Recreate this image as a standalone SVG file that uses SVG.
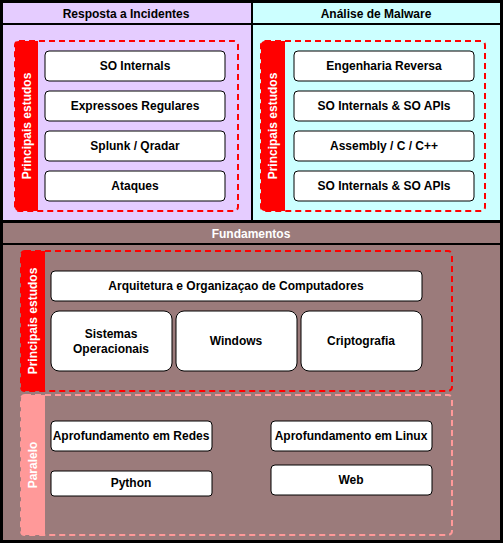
<svg xmlns="http://www.w3.org/2000/svg" width="503" height="543" viewBox="0 0 503 543">
<style>
text{font-family:"Liberation Sans",Arial,sans-serif;font-weight:bold;font-size:12px;text-anchor:middle;dominant-baseline:central}
.box{fill:#fff;stroke:#000;stroke-width:1}
.dash{fill:none;stroke:#ff0000;stroke-width:2;stroke-dasharray:6 4}
.dashp{fill:none;stroke:#ff9999;stroke-width:2;stroke-dasharray:6 4}
.w{fill:#fff}
.sep{stroke:#000;stroke-width:2}
</style>
<rect x="0" y="0" width="503" height="543" fill="#000"/>
<g id="resposta">
<rect x="3" y="3" width="248" height="217" fill="#e5ccff"/>
<line class="sep" x1="0" y1="24" x2="252" y2="24"/>
<text x="126" y="14">Resposta a Incidentes</text>
<g id="ri-principais">
<path d="M19 41 H38 V211 H19 Q15 211 15 207 V45 Q15 41 19 41 Z" fill="#ff0000"/>
<rect class="dash" x="15" y="41" width="223" height="170" rx="4"/>
<text transform="translate(27 126) rotate(-90)" class="w">Principais estudos</text>
</g>
<g id="ri-so"><rect class="box" x="45" y="51" width="180" height="30" rx="4"/><text x="135" y="66">SO Internals</text></g>
<g id="ri-regex"><rect class="box" x="45" y="91" width="180" height="30" rx="4"/><text x="135" y="106">Expressoes Regulares</text></g>
<g id="ri-splunk"><rect class="box" x="45" y="131" width="180" height="30" rx="4"/><text x="135" y="146">Splunk / Qradar</text></g>
<g id="ri-ataques"><rect class="box" x="45" y="171" width="180" height="30" rx="4"/><text x="135" y="186">Ataques</text></g>
</g>
<g id="malware">
<rect x="253" y="3" width="247" height="217" fill="#ccffff"/>
<line class="sep" x1="252" y1="24" x2="503" y2="24"/>
<text x="376" y="14">Análise de Malware</text>
<g id="am-principais">
<path d="M265 41 H285 V211 H265 Q261 211 261 207 V45 Q261 41 265 41 Z" fill="#ff0000"/>
<rect class="dash" x="261" y="41" width="224" height="170" rx="4"/>
<text transform="translate(273 126) rotate(-90)" class="w">Principais estudos</text>
</g>
<g id="am-eng"><rect class="box" x="294" y="51" width="180" height="30" rx="4"/><text x="384" y="66">Engenharia Reversa</text></g>
<g id="am-so1"><rect class="box" x="294" y="91" width="180" height="30" rx="4"/><text x="384" y="106">SO Internals &amp; SO APIs</text></g>
<g id="am-asm"><rect class="box" x="294" y="131" width="180" height="30" rx="4"/><text x="384" y="146">Assembly / C / C++</text></g>
<g id="am-so2"><rect class="box" x="294" y="171" width="180" height="30" rx="4"/><text x="384" y="186">SO Internals &amp; SO APIs</text></g>
</g>
<g id="fundamentos">
<rect x="3" y="223" width="497" height="317" fill="#9b7b7b"/>
<line class="sep" x1="0" y1="244" x2="503" y2="244"/>
<text x="251" y="234" class="w">Fundamentos</text>
<g id="f-principais">
<path d="M25 251 H45 V391 H25 Q21 391 21 387 V255 Q21 251 25 251 Z" fill="#ff0000"/>
<rect class="dash" x="21" y="251" width="431" height="140" rx="4"/>
<text transform="translate(33 321) rotate(-90)" class="w">Principais estudos</text>
</g>
<g id="f-arq"><rect class="box" x="51" y="271" width="371" height="30" rx="4"/><text x="236" y="286">Arquitetura e Organizaçao de Computadores</text></g>
<g id="f-sis"><rect class="box" x="51" y="311" width="121" height="60" rx="8"/><text x="111" y="334">Sistemas</text><text x="111" y="349">Operacionais</text></g>
<g id="f-win"><rect class="box" x="176" y="311" width="121" height="60" rx="8"/><text x="236" y="341">Windows</text></g>
<g id="f-cripto"><rect class="box" x="301" y="311" width="121" height="60" rx="8"/><text x="361" y="341">Criptografia</text></g>
<g id="f-paralelo">
<path d="M25 395 H45 V535 H25 Q21 535 21 531 V399 Q21 395 25 395 Z" fill="#ff9999"/>
<rect class="dashp" x="21" y="395" width="431" height="140" rx="4"/>
<text transform="translate(33 465) rotate(-90)" class="w">Paralelo</text>
</g>
<g id="f-redes"><rect class="box" x="51" y="421" width="161" height="30" rx="4"/><text x="131" y="436">Aprofundamento em Redes</text></g>
<g id="f-python"><rect class="box" x="51" y="471" width="161" height="25" rx="3"/><text x="131" y="483">Python</text></g>
<g id="f-linux"><rect class="box" x="271" y="421" width="161" height="30" rx="4"/><text x="351" y="436">Aprofundamento em Linux</text></g>
<g id="f-web"><rect class="box" x="271" y="465" width="161" height="30" rx="4"/><text x="351" y="480">Web</text></g>
</g>
<g id="connectors"/>
</svg>
